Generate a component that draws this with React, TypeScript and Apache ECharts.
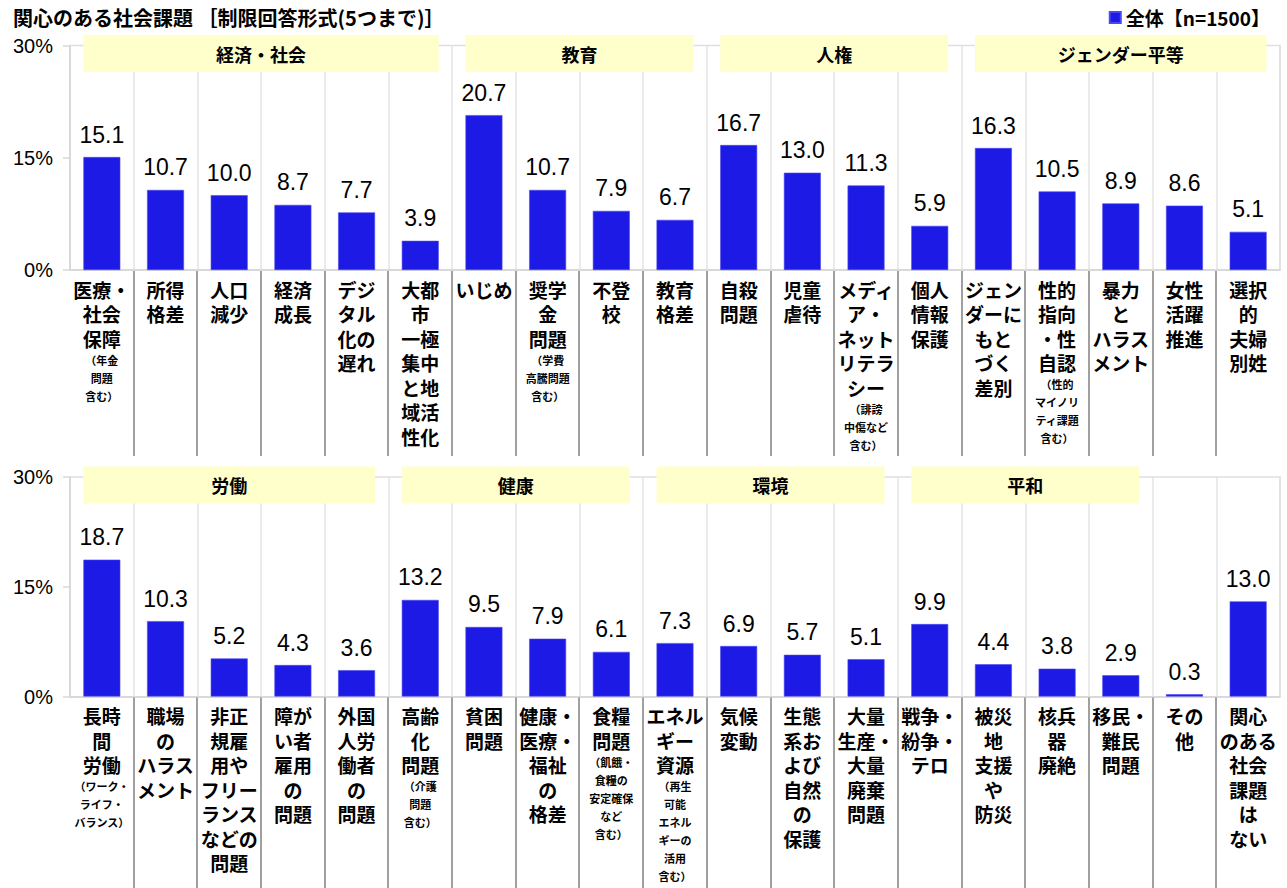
import React, { useEffect, useRef } from "react";
import * as echarts from "echarts";

const titleText = "関心のある社会課題 ［制限回答形式(5つまで)］";
const seriesName = "全体【n=1500】";

// "|" separates the main label from the small parenthetical note
const topCategories = [
  "医療・\n社会\n保障|（年金\n問題\n含む）",
  "所得\n格差",
  "人口\n減少",
  "経済\n成長",
  "デジ\nタル\n化の\n遅れ",
  "大都\n市\n一極\n集中\nと地\n域活\n性化",
  "いじめ",
  "奨学\n金\n問題|（学費\n高騰問題\n含む）",
  "不登\n校",
  "教育\n格差",
  "自殺\n問題",
  "児童\n虐待",
  "メディ\nア・\nネット\nリテラ\nシー|（誹謗\n中傷など\n含む）",
  "個人\n情報\n保護",
  "ジェン\nダーに\nもと\nづく\n差別",
  "性的\n指向\n・性\n自認|（性的\nマイノリ\nティ課題\n含む）",
  "暴力\nと\nハラス\nメント",
  "女性\n活躍\n推進",
  "選択\n的\n夫婦\n別姓",
];
const topValues = [15.1, 10.7, 10.0, 8.7, 7.7, 3.9, 20.7, 10.7, 7.9, 6.7, 16.7, 13.0, 11.3, 5.9, 16.3, 10.5, 8.9, 8.6, 5.1];

const bottomCategories = [
  "長時\n間\n労働|（ワーク・\nライフ・\nバランス）",
  "職場\nの\nハラス\nメント",
  "非正\n規雇\n用や\nフリー\nランス\nなどの\n問題",
  "障が\nい者\n雇用\nの\n問題",
  "外国\n人労\n働者\nの\n問題",
  "高齢\n化\n問題|（介護\n問題\n含む）",
  "貧困\n問題",
  "健康・\n医療・\n福祉\nの\n格差",
  "食糧\n問題|（飢餓・\n食糧の\n安定確保\nなど\n含む）",
  "エネル\nギー\n資源|（再生\n可能\nエネル\nギーの\n活用\n含む）",
  "気候\n変動",
  "生態\n系お\nよび\n自然\nの\n保護",
  "大量\n生産・\n大量\n廃棄\n問題",
  "戦争・\n紛争・\nテロ",
  "被災\n地\n支援\nや\n防災",
  "核兵\n器\n廃絶",
  "移民・\n難民\n問題",
  "その\n他",
  "関心\nのある\n社会\n課題\nは\nない",
];
const bottomValues = [18.7, 10.3, 5.2, 4.3, 3.6, 13.2, 9.5, 7.9, 6.1, 7.3, 6.9, 5.7, 5.1, 9.9, 4.4, 3.8, 2.9, 0.3, 13.0];

const topGroupNames = ["経済・社会", "教育", "人権", "ジェンダー平等"];
const topGroupStarts = [0, 6, 10, 14];
const topGroupEnds = [5, 9, 13, 18];

const bottomGroupNames = ["労働", "健康", "環境", "平和"];
const bottomGroupStarts = [0, 5, 9, 13];
const bottomGroupEnds = [4, 8, 12, 16];

const yMin = 0;
const yMax = 30;
const yInterval = 15;

const CJK = '"Noto Sans CJK JP", "Noto Sans", sans-serif';
const LAT = '"Liberation Sans", Arial, sans-serif';
const BAR_COLOR = "#1d1ae6";
const BAR_WIDTH_RATIO = 0.58;

const fmtLabel = (s: string) => {
  const [main, small] = s.split("|");
  const lines = main.split("\n").map((l) => `{a|${l}}`);
  if (small) small.split("\n").forEach((l) => lines.push(`{b|${l}}`));
  return lines.join("\n");
};

const makeXAxis = (gridIndex: number, data: string[]) => ({
  type: "category",
  gridIndex,
  data,
  axisLine: { show: true, lineStyle: { color: "#d9d9d9", width: 2 } },
  axisTick: { show: false },
  splitLine: { show: true, lineStyle: { color: "#e4e4e4", width: 1.5 } },
  axisLabel: {
    interval: 0,
    margin: 7,
    formatter: (v: string) => fmtLabel(v),
    rich: {
      a: { fontFamily: CJK, fontWeight: "bold", fontSize: 19, lineHeight: 24.5, color: "#000", align: "center" },
      b: { fontFamily: CJK, fontWeight: "bold", fontSize: 11, lineHeight: 18, color: "#000", align: "center" },
    },
  },
});

const makeYAxis = (gridIndex: number) => ({
  type: "value",
  gridIndex,
  min: yMin,
  max: yMax,
  interval: yInterval,
  axisLine: { show: true, lineStyle: { color: "#d9d9d9", width: 2 } },
  axisTick: { show: true, length: 7, lineStyle: { color: "#d9d9d9", width: 1.5 } },
  splitLine: { show: false },
  axisLabel: { fontFamily: LAT, fontSize: 20, color: "#000", margin: 17, formatter: "{value}%" },
});

const makeSeries = (idx: number, values: number[]) => ({
  type: "bar",
  name: seriesName,
  xAxisIndex: idx,
  yAxisIndex: idx,
  data: values,
  barWidth: `${BAR_WIDTH_RATIO * 100}%`,
  itemStyle: { color: BAR_COLOR, borderColor: "#4b48f0", borderWidth: 0.6 },
  label: {
    show: true,
    position: "top",
    distance: 11,
    fontFamily: LAT,
    fontSize: 23,
    color: "#000",
    formatter: (p: any) => Number(p.value).toFixed(1),
  },
});

export default function App() {
  const ref = useRef<HTMLDivElement>(null);
  useEffect(() => {
    if (!ref.current) return;
    const chart = echarts.init(ref.current, undefined, { renderer: "svg" });
    const option: any = {
      animation: false,
      backgroundColor: "#fff",
      title: {
        text: titleText,
        left: 8,
        top: 2,
        textStyle: { fontFamily: CJK, fontWeight: "bold", fontSize: 20, color: "#000" },
      },
      legend: {
        data: [seriesName],
        right: 12,
        top: 3,
        icon: "rect",
        itemWidth: 11,
        itemHeight: 11,
        itemGap: 4,
        textStyle: { fontFamily: CJK, fontWeight: "bold", fontSize: 19, color: "#000" },
      },
      grid: [
        { left: 70, right: 7, top: 45.5, height: 224.5, show: false },
        { left: 70, right: 7, top: 477, height: 219.5, show: false },
      ],
      xAxis: [makeXAxis(0, topCategories), makeXAxis(1, bottomCategories)],
      yAxis: [makeYAxis(0), makeYAxis(1)],
      series: [makeSeries(0, topValues), makeSeries(1, bottomValues)],
    };
    chart.setOption(option);

    const decorations = (axisIdx: number, names: string[], starts: number[], ends: number[], n: number, sepLen: number) => {
      const px = (i: number) => chart.convertToPixel({ xAxisIndex: axisIdx } as any, i) as number;
      const band = px(1) - px(0);
      const half = (band * BAR_WIDTH_RATIO) / 2;
      const yTop = chart.convertToPixel({ yAxisIndex: axisIdx } as any, yMax) as number;
      const yBase = chart.convertToPixel({ yAxisIndex: axisIdx } as any, yMin) as number;
      const xLeft = px(0) - band / 2;
      const xRight = px(n - 1) + band / 2;
      const els: any[] = [];
      // plot frame: top line at the maximum and right border (light gray)
      els.push({
        type: "polyline",
        shape: { points: [[xLeft, yTop], [xRight, yTop], [xRight, yBase]] },
        style: { stroke: "#e0e0e0", lineWidth: 1.5, fill: null },
        z: 0,
      });
      // separators between category labels (inner boundaries only)
      for (let i = 1; i < n; i++) {
        const x = Math.round(px(i) - band / 2);
        els.push({
          type: "line",
          shape: { x1: x, y1: yBase + 1, x2: x, y2: yBase + sepLen },
          style: { stroke: "#a0a0a0", lineWidth: 2 },
          z: 5,
        });
      }
      names.forEach((name, i) => {
        const xs = px(starts[i]) - half;
        const xe = px(ends[i]) + half;
        els.push({
          type: "rect",
          shape: { x: xs, y: yTop - 10.5, width: xe - xs, height: 37 },
          style: { fill: "#ffffcc" },
          z: 1,
        });
        els.push({
          type: "text",
          x: (xs + xe) / 2,
          y: yTop - 10.5 + 18.5,
          style: {
            text: name,
            fontFamily: CJK,
            fontWeight: "bold",
            fontSize: 18,
            fill: "#000",
            align: "center",
            verticalAlign: "middle",
          },
          z: 2,
        });
      });
      return els;
    };
    chart.setOption({
      graphic: [
        ...decorations(0, topGroupNames, topGroupStarts, topGroupEnds, topCategories.length, 186),
        ...decorations(1, bottomGroupNames, bottomGroupStarts, bottomGroupEnds, bottomCategories.length, 200),
      ],
    });
    return () => chart.dispose();
  }, []);
  return <div ref={ref} style={{ position: "fixed", left: 0, top: 0, width: 1287, height: 888 }} />;
}
